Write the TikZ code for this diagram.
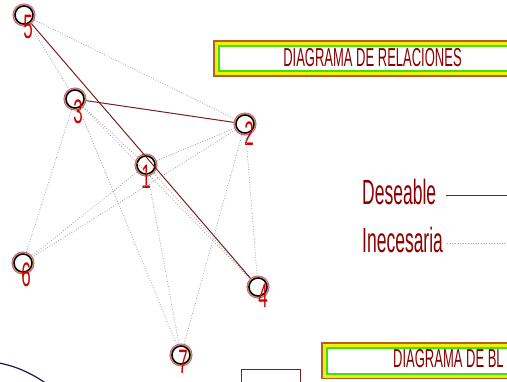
\documentclass[tikz,border=0pt]{standalone}
\usepackage{fontspec}
\newfontfamily\cadfont[FakeStretch=0.5]{Liberation Sans}

\definecolor{anillo}{HTML}{C04CA8}
\definecolor{ocre}{HTML}{D8B050}
\definecolor{granate}{HTML}{7A1E1E}
\definecolor{punteado}{HTML}{A0A0A0}
\definecolor{cifra}{HTML}{D00000}
\definecolor{rotulo}{HTML}{8C0000}
\definecolor{marron}{HTML}{B0602A}
\definecolor{amarillo}{HTML}{F0F000}
\definecolor{verde}{HTML}{40E010}
\definecolor{marino}{HTML}{1A1A4A}

\tikzset{
    punto/.style={circle, minimum size=18pt, inner sep=0pt, outer sep=2.5pt,
        fill=white, draw=black, line width=1.5pt,
        preaction={draw=anillo, line width=5pt},
        preaction={draw=ocre, line width=3.4pt}},
    digito/.style={font=\cadfont\fontsize{34}{34}\selectfont, text=cifra, inner sep=0pt},
    rotulo/.style={font=\cadfont\fontsize{26}{26}\selectfont, text=rotulo, inner sep=0pt},
    leyenda/.style={font=\cadfont\fontsize{35}{35}\selectfont, text=rotulo, inner sep=0pt, anchor=west},
    marco/.style={rectangle, anchor=north west, inner sep=0pt, fill=white,
        draw=verde, line width=2pt,
        preaction={draw=marron, line width=11pt},
        preaction={draw=amarillo, line width=8pt}},
    deseable/.style={draw=granate, line width=1pt},
    inecesaria/.style={draw=punteado, line width=0.8pt, dash pattern=on 0.8pt off 1.8pt},
}

\begin{document}
\begin{tikzpicture}[x=1pt, y=-1pt]
    \useasboundingbox (0,0) rectangle (507,381);

    % titulos
    \node[marco, minimum width=320pt, minimum height=25.4pt] (marcoRel) at (217.5,44.8) {};
    \node[rotulo] (tituloRel) at (372.5,57.5) {DIAGRAMA DE RELACIONES};
    \node[marco, minimum width=220pt, minimum height=26pt] (marcoBlq) at (325.5,346.5) {};
    \node[rotulo, anchor=west] (tituloBlq) at (393,359) {DIAGRAMA DE BL};

    % puntos
    \node[punto] (p5) at (24,15) {};
    \node[punto] (p3) at (75,99) {};
    \node[punto] (p2) at (245,124) {};
    \node[punto] (p1) at (146,165) {};
    \node[punto] (p6) at (23,263) {};
    \node[punto] (p4) at (258,287) {};
    \node[punto] (p7) at (181,355) {};

    \node[digito] (d5) at (28,27) {5};
    \node[digito] (d3) at (78,112) {3};
    \node[digito] (d2) at (249,134) {2};
    \node[digito] (d1) at (146,177) {1};
    \node[digito] (d6) at (26,275) {6};
    \node[digito] (d4) at (263,296) {4};
    \node[digito] (d7) at (183,362) {7};

    % relaciones inecesarias
    \draw[inecesaria] (p5) -- (p3);
    \draw[inecesaria] (p5) -- (p2);
    \draw[inecesaria] (p3) -- (p6);
    \draw[inecesaria] (p3) -- (p1);
    \draw[inecesaria] (p3) -- (p4);
    \draw[inecesaria] (p3) -- (p7);
    \draw[inecesaria] (p1) -- (p6);
    \draw[inecesaria] (p1) -- (p2);
    \draw[inecesaria] (p1) -- (p4);
    \draw[inecesaria] (p1) -- (p7);
    \draw[inecesaria] (p2) -- (p6);
    \draw[inecesaria] (p2) -- (p7);
    \draw[inecesaria] (p2) -- (p4);

    % relaciones deseables
    \draw[deseable] (p5) -- (p4);
    \draw[deseable] (p3) -- (p2);

    % leyenda
    \node[leyenda] (des) at (362,192) {Deseable};
    \node[leyenda] (inec) at (362,240) {Inecesaria};
    \coordinate (finDes) at (512,195);
    \coordinate (finInec) at (512,243);
    \draw[deseable] ([xshift=10pt, yshift=-3pt]des.east) -- (finDes);
    \draw[inecesaria] ([xshift=4pt, yshift=-3pt]inec.east) -- (finInec);

    % restos al pie
    \node[rectangle, anchor=north west, draw=granate, line width=1pt, inner sep=0pt,
        minimum width=59pt, minimum height=20pt] (cajaPie) at (241,369) {};
    \draw[marino, line width=1.2pt] (-20,361) .. controls (10,362) and (30,372) .. (50,386);
\end{tikzpicture}
\end{document}
